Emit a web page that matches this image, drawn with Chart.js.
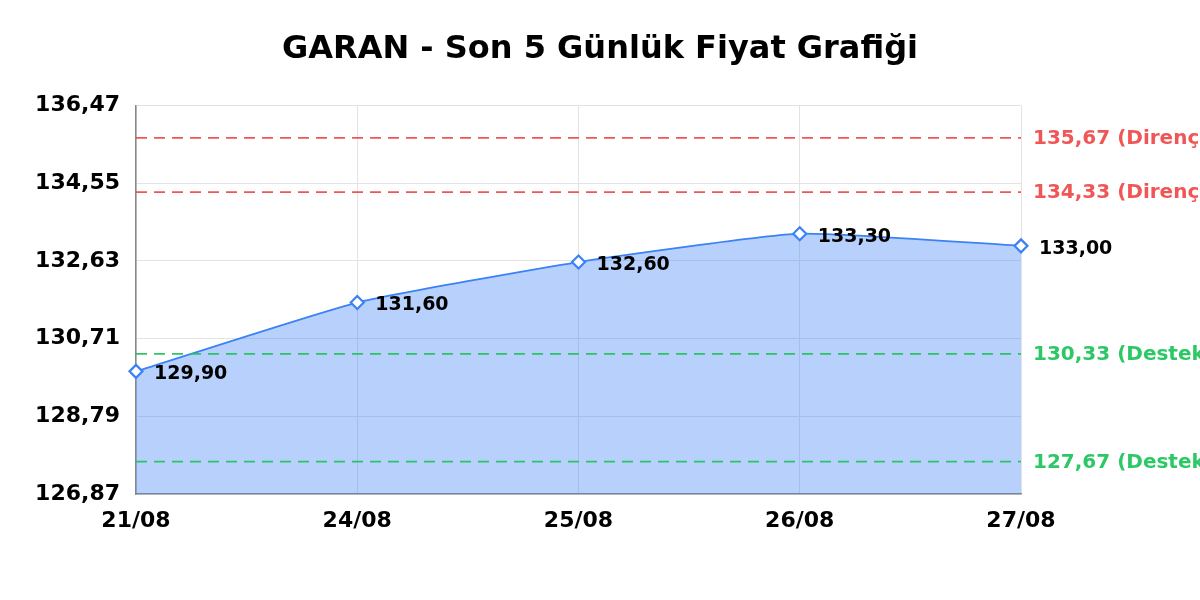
<!DOCTYPE html>
<html>
<head>
<meta charset="utf-8">
<script src="https://cdn.jsdelivr.net/npm/chart.js@4"></script>
<style>
  html, body { margin: 0; padding: 0; background: #fff; }
  #wrap { width: 1200px; height: 600px; }
</style>
</head>
<body>
<div id="wrap"><canvas id="garanChart" width="1200" height="600"></canvas></div>
<script>
const dates = ["21/08", "24/08", "25/08", "26/08", "27/08"];
const prices = [129.90, 131.60, 132.60, 133.30, 133.00];
const yTicks = [126.87, 128.79, 130.71, 132.63, 134.55, 136.47];
const resistanceLevels = [135.67, 134.33];
const supportLevels = [130.33, 127.67];

const RED = "rgba(239, 68, 68, 0.9)";
const GREEN = "rgba(34, 197, 94, 0.95)";
const fmt = v => v.toFixed(2).replace(".", ",");

Chart.defaults.font.family = "'DejaVu Sans', sans-serif";
Chart.defaults.color = "#000";

// dashed level lines as flat datasets
const levelSets = [];
resistanceLevels.forEach(v => levelSets.push({ level: v, kind: "Direnç", color: RED }));
supportLevels.forEach(v => levelSets.push({ level: v, kind: "Destek", color: GREEN }));

const levelDatasets = levelSets.map(l => ({
  label: fmt(l.level) + " (" + l.kind + ")",
  data: dates.map(() => l.level),
  borderColor: l.color,
  borderWidth: 1.8,
  borderDash: [11, 7],
  pointRadius: 0,
  fill: false,
  tension: 0,
  order: 1
}));

// text labels: point values and level names on the right
const labelPlugin = {
  id: "labelPlugin",
  afterDatasetsDraw(chart) {
    const ctx = chart.ctx;
    const y = chart.scales.y;
    const area = chart.chartArea;
    ctx.save();
    ctx.textBaseline = "middle";
    ctx.textAlign = "left";
    ctx.font = "bold 19px 'DejaVu Sans'";
    const meta = chart.getDatasetMeta(0);
    meta.data.forEach((pt, i) => {
      ctx.fillStyle = "#000";
      ctx.fillText(fmt(prices[i]), pt.x + 18, pt.y + 3);
    });
    ctx.font = "bold 20px 'DejaVu Sans'";
    levelSets.forEach(l => {
      ctx.fillStyle = l.color;
      ctx.fillText(fmt(l.level) + " (" + l.kind + ")", area.right + 12, y.getPixelForValue(l.level) + 1);
    });
    ctx.restore();
  }
};

new Chart(document.getElementById("garanChart").getContext("2d"), {
  type: "line",
  data: {
    labels: dates,
    datasets: [{
      label: "GARAN",
      data: prices,
      borderColor: "#3b82f6",
      borderWidth: 1.8,
      backgroundColor: "rgba(59, 130, 246, 0.37)",
      fill: "start",
      tension: 0.15,
      pointStyle: "rectRot",
      pointRadius: 6.5,
      pointBorderWidth: 2.2,
      pointBackgroundColor: "#fff",
      pointBorderColor: "#3b82f6",
      order: 2
    }, ...levelDatasets]
  },
  options: {
    responsive: false,
    devicePixelRatio: 1,
    animation: false,
    layout: { padding: 0 },
    plugins: {
      legend: { display: false },
      tooltip: { enabled: false },
      title: {
        display: true,
        text: "GARAN - Son 5 Günlük Fiyat Grafiği",
        color: "#000",
        font: { size: 32, weight: "bold" },
        padding: { top: 30, bottom: 37 }
      }
    },
    scales: {
      x: {
        offset: false,
        grid: { color: "#e3e3e3", drawTicks: false },
        border: { color: "#888", width: 1.5 },
        ticks: { font: { size: 22, weight: "bold" }, padding: 14, maxRotation: 0, autoSkip: false },
        afterFit(scale) { scale.height = 106; }
      },
      y: {
        min: yTicks[0],
        max: yTicks[yTicks.length - 1],
        grid: { color: "#e3e3e3", drawTicks: false },
        border: { color: "#888", width: 1.5 },
        ticks: { font: { size: 22, weight: "bold" }, padding: 16, callback: v => fmt(v) },
        afterBuildTicks(scale) { scale.ticks = yTicks.map(v => ({ value: v })); },
        afterFit(scale) { scale.width = 136; }
      },
      // empty right-hand space reserved for the level labels
      yRight: {
        position: "right",
        min: yTicks[0],
        max: yTicks[yTicks.length - 1],
        grid: { drawOnChartArea: false, drawTicks: false },
        border: { display: false },
        ticks: { display: false },
        afterFit(scale) { scale.width = 179; }
      }
    }
  },
  plugins: [labelPlugin]
});
</script>
</body>
</html>
